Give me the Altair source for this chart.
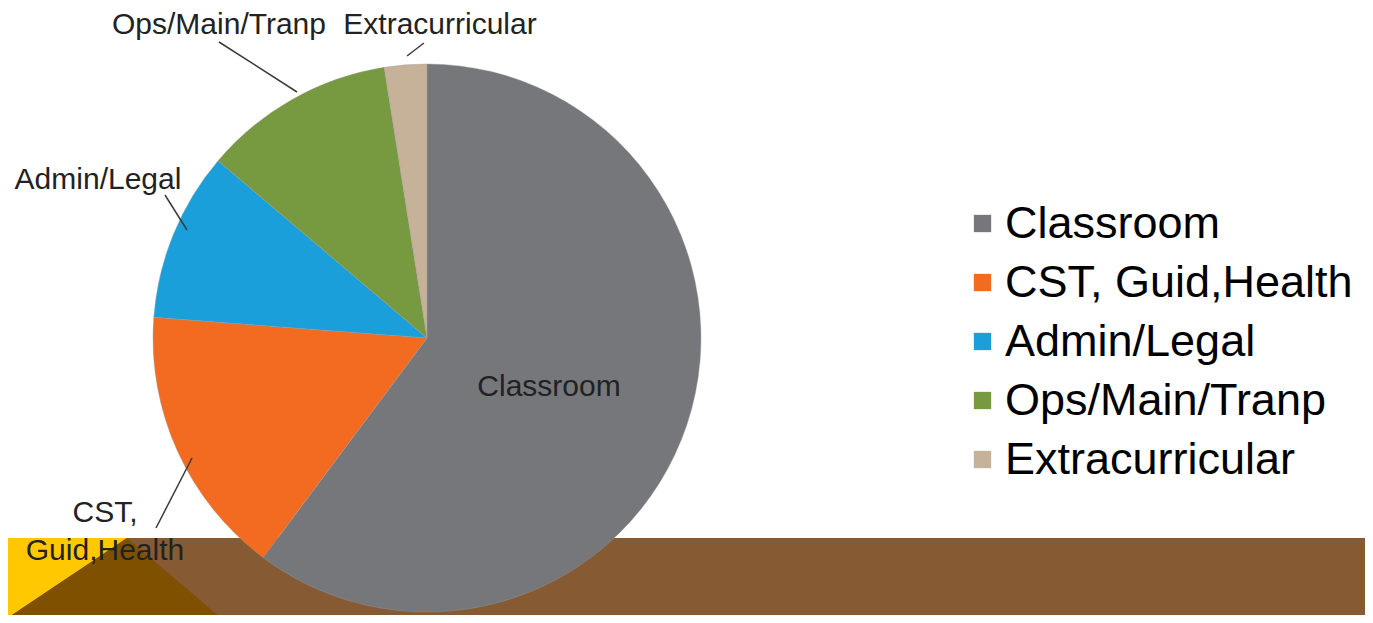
import altair as alt
import pandas as pd

# ---- chart data ----
categories = ["Classroom", "CST, Guid,Health", "Admin/Legal", "Ops/Main/Tranp", "Extracurricular"]
shares = [60.2, 16.0, 10.0, 11.3, 2.5]
colors = ["#76777b", "#f26b21", "#1b9fdb", "#77993f", "#c5b298"]

# ---- page geometry (page pixel space) ----
W, H = 1357, 607
M = 8
FONT = "Liberation Sans"

pie = pd.DataFrame({"category": categories, "share": shares})

# decorative background shapes
band = pd.DataFrame({"x": [0], "x2": [1373], "y": [538], "y2": [623]})
yellow_tri = pd.DataFrame({"x": [0, 127], "y": [538, 538], "y2": [623, 538]})
dark_tri = pd.DataFrame({"x": [0, 127, 227], "y": [623, 538, 623], "y2": [623, 623, 623]})

# annotation layout
lab_text = ["Classroom", "Ops/Main/Tranp", "Extracurricular", "Admin/Legal", "CST,\nGuid,Health"]
lab_x = [549, 219, 440, 98, 105]
lab_y = [396, 34, 34, 189, 522]
labels = pd.DataFrame({"t": lab_text, "x": lab_x, "y": lab_y})

lead_x = [219, 424, 165, 192]
lead_y = [42, 43, 195, 458]
lead_x2 = [297, 407, 187, 156]
lead_y2 = [92, 56, 230, 528]
leaders = pd.DataFrame({"x": lead_x, "y": lead_y, "x2": lead_x2, "y2": lead_y2})

xs = alt.Scale(domain=[M, M + W], nice=False, zero=False)
ys = alt.Scale(domain=[M, M + H], nice=False, zero=False, reverse=True)

X = lambda f: alt.X(f, type="quantitative", scale=xs, axis=None)
Y = lambda f: alt.Y(f, type="quantitative", scale=ys, axis=None)

band_layer = alt.Chart(band).mark_rect(color="#865b33", clip=True).encode(
    x=X("x"), x2="x2", y=Y("y"), y2="y2"
)
yellow_layer = alt.Chart(yellow_tri).mark_area(color="#ffc800", clip=True).encode(
    x=X("x"), y=Y("y"), y2="y2"
)
dark_layer = alt.Chart(dark_tri).mark_area(color="#7f5000", clip=True).encode(
    x=X("x"), y=Y("y"), y2="y2"
)

CX, CY, R = 427 - M, 338 - M, 274

pie_layer = alt.Chart(pie).mark_arc(outerRadius=R, stroke="#9a9a9a", strokeWidth=0.4).encode(
    theta=alt.Theta("share:Q", stack=True),
    color=alt.Color(
        "category:N",
        sort=categories,
        scale=alt.Scale(domain=categories, range=colors),
        legend=alt.Legend(
            title=None,
            orient="none",
            legendX=960 - M,
            legendY=201 - M,
            symbolType="square",
            symbolSize=300,
            symbolStrokeWidth=0,
            labelFont=FONT,
            labelFontSize=45,
            labelColor="#000000",
            labelOffset=0,
            labelLimit=0,
            rowPadding=13,
            padding=0,
        ),
    ),
    order=alt.Order("idx:Q"),
    x=alt.value(CX),
    y=alt.value(CY),
).transform_calculate(idx="indexof(" + str(categories) + ", datum.category)")

leader_layer = alt.Chart(leaders).mark_rule(color="#3a3a3a", strokeWidth=1.5).encode(
    x=X("x"), y=Y("y"), x2="x2", y2="y2"
)

label_layer = alt.Chart(labels).mark_text(
    font=FONT, fontSize=30, color="#222222", align="center", baseline="alphabetic",
    lineBreak="\n", lineHeight=38,
).encode(x=X("x"), y=Y("y"), text="t:N")

chart = alt.layer(
    band_layer, yellow_layer, dark_layer, pie_layer, leader_layer, label_layer
).properties(
    width=W, height=H, autosize=alt.AutoSizeParams(type="none"), padding=0
).configure(background="#ffffff").configure_view(stroke=None)

chart.save("out.html", embed_options={"renderer": "svg", "actions": False})
